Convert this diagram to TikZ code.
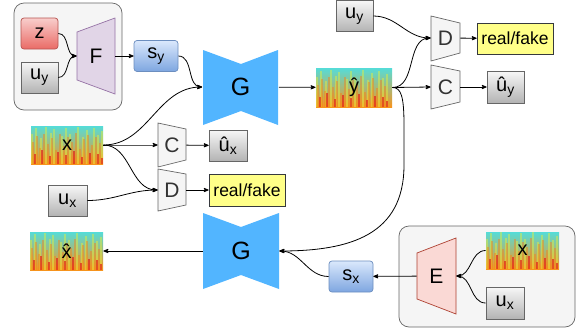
\documentclass[tikz,border=0pt]{standalone}
\usepackage{fontspec}
\setmainfont{Liberation Sans}
\usetikzlibrary{arrows}

\definecolor{grpFill}{HTML}{F5F5F5}
\definecolor{grpDraw}{HTML}{666666}
\definecolor{uTop}{HTML}{F7F7F7}
\definecolor{uBot}{HTML}{B3B3B3}
\definecolor{uDraw}{HTML}{666666}
\definecolor{sTop}{HTML}{DAE8FC}
\definecolor{sBot}{HTML}{7EA6E0}
\definecolor{sDraw}{HTML}{6C8EBF}
\definecolor{zTop}{HTML}{F8CECC}
\definecolor{zBot}{HTML}{EA6B66}
\definecolor{zDraw}{HTML}{B85450}
\definecolor{fFill}{HTML}{E1D5E7}
\definecolor{fDraw}{HTML}{9673A6}
\definecolor{eFill}{HTML}{FAD9D5}
\definecolor{eDraw}{HTML}{AE4132}
\definecolor{rfFill}{HTML}{FFFF88}
\definecolor{rfDraw}{HTML}{36393D}
\definecolor{gFill}{HTML}{52B5FF}
\definecolor{netText}{HTML}{333333}
\definecolor{specTop}{HTML}{55DCD8}
\definecolor{specMid}{HTML}{C8EE4E}
\definecolor{specBot}{HTML}{F7941D}
\definecolor{specYel}{HTML}{E8F03A}
\definecolor{specStripe}{HTML}{F08A1C}
\definecolor{specRed}{HTML}{E2231A}

\begin{document}
\begin{tikzpicture}[>=stealth',x=1pt,y=-1pt,line width=0.8pt]
  \tikzstyle{grp}=[draw=grpDraw,fill=grpFill,rounded corners=10pt,line width=0.7pt]
  \tikzstyle{box}=[inner sep=0pt,minimum width=37pt,minimum height=31pt,line width=0.7pt,font=\fontsize{20}{20}\selectfont]
  \tikzstyle{uvar}=[box,draw=uDraw,top color=uTop,bottom color=uBot]
  \tikzstyle{svar}=[box,draw=sDraw,top color=sTop,bottom color=sBot,rounded corners=3pt,minimum width=44pt]
  \tikzstyle{zvar}=[box,draw=zDraw,top color=zTop,bottom color=zBot,rounded corners=3pt]
  \tikzstyle{rf}=[box,draw=rfDraw,fill=rfFill,minimum width=76pt,font=\fontsize{17.5}{17.5}\selectfont]
  \tikzstyle{net}=[inner sep=0pt,font=\fontsize{21}{21}\selectfont]
  \tikzstyle{gen}=[inner sep=0pt,minimum width=76pt,minimum height=76pt,font=\fontsize{25}{25}\selectfont]
  \tikzstyle{link}=[->]
  \tikzstyle{spec}=[inner sep=0pt,minimum width=73pt,minimum height=38pt,fill=specMid,
    font=\fontsize{20}{20}\selectfont,
    path picture={
      \shade[top color=specTop,middle color=specMid,bottom color=specBot]
        (path picture bounding box.north west) rectangle (path picture bounding box.south east);
      \foreach \p/\h in {1/30,5/36,10/26,15/37,20/31,23/35,31/28,35/36,39/30,47/37,52/27,56/34,63/36,67/29,71/33}
        \draw[specYel,line width=1.6pt,opacity=.45] ([xshift=\p pt]path picture bounding box.south west) -- ++(0pt,\h pt);
      \foreach \p/\h in {2/22,6/28,9/16,13/30,17/20,21/26,25/14,29/30,33/18,37/27,41/22,45/31,49/15,53/25,57/29,61/19,65/27,69/21}
        \draw[specStripe,line width=1.3pt,opacity=.5] ([xshift=\p pt]path picture bounding box.south west) -- ++(0pt,\h pt);
      \foreach \p/\h in {4/10,11/14,19/8,27/12,35/9,43/13,51/7,59/11,67/10,71/6}
        \draw[specRed,line width=1.2pt,opacity=.7] ([xshift=\p pt]path picture bounding box.south west) -- ++(0pt,\h pt);
    }]

  \useasboundingbox (0,0) rectangle (582,333);

  % groups
  \draw[grp] (14,3) rectangle (122,110);
  \draw[grp] (399,226) rectangle (575,327);

  % network blocks
  \filldraw[fill=fFill,draw=fDraw,line width=0.7pt] (77,32) -- (115,18) -- (115,94) -- (77,80) -- cycle;
  \filldraw[fill=eFill,draw=eDraw,line width=0.7pt] (417,253) -- (456,238) -- (456,314) -- (417,299) -- cycle;
  \filldraw[fill=grpFill,draw=grpDraw,line width=0.7pt] (158,123) -- (186,129) -- (186,160) -- (158,167) -- cycle;
  \filldraw[fill=grpFill,draw=grpDraw,line width=0.7pt] (158,169) -- (186,174) -- (186,205) -- (158,211) -- cycle;
  \filldraw[fill=grpFill,draw=grpDraw,line width=0.7pt] (431,16) -- (460,23) -- (460,53) -- (431,61) -- cycle;
  \filldraw[fill=grpFill,draw=grpDraw,line width=0.7pt] (431,65) -- (460,71) -- (460,102) -- (431,109) -- cycle;
  \fill[gFill] (203,50) -- (241,64) -- (278,50) -- (278,125) -- (241,111) -- (203,125) -- cycle;
  \fill[gFill] (203,213) -- (241,227) -- (279,213) -- (279,289) -- (241,275) -- (203,289) -- cycle;

  \node[net,minimum width=38pt,minimum height=76pt]              (F)   at (96,56)     {F};
  \node[net,minimum width=39pt,minimum height=76pt]              (E)   at (436.5,276) {E};
  \node[net,minimum width=28pt,minimum height=44pt,text=netText] (Cl)  at (172,145)   {C};
  \node[net,minimum width=28pt,minimum height=42pt,text=netText] (Dl)  at (172,190)   {D};
  \node[net,minimum width=29pt,minimum height=45pt,text=netText] (Dr)  at (445.5,38)  {D};
  \node[net,minimum width=29pt,minimum height=44pt,text=netText] (Cr)  at (445.5,87)  {C};
  \node[gen]                                                     (G1)  at (240.5,87)  {G};
  \node[gen]                                                     (G2)  at (241,251)   {G};

  % variables
  \node[zvar]                   (z)    at (39.5,33.5)  {z};
  \node[uvar]                   (uy)   at (39.5,77.5)  {u\textsubscript{y}};
  \node[svar]                   (sy)   at (156,56)     {s\textsubscript{y}};
  \node[uvar]                   (uyt)  at (354.5,16)   {u\textsubscript{y}};
  \node[rf]                     (rfr)  at (515,38.5)   {real/fake};
  \node[uvar,minimum height=32pt] (uyh) at (505.5,87)  {û\textsubscript{y}};
  \node[spec,minimum width=76pt,minimum height=39pt] (yhat) at (354,87.5) {ŷ};
  \node[spec,minimum width=72pt] (xl)  at (67,145)     {x};
  \node[uvar,minimum width=38pt] (uxh) at (228,145.5)  {û\textsubscript{x}};
  \node[rf,minimum height=32pt] (rfl)  at (247,190)    {real/fake};
  \node[uvar,minimum width=39pt] (ux)  at (67.5,200.5) {u\textsubscript{x}};
  \node[spec]                   (xhat) at (66.5,251)   {\^{x}};
  \node[svar]                   (sx)   at (351,276.5)  {s\textsubscript{x}};
  \node[spec,minimum height=37pt] (xr) at (522.5,250.5) {x};
  \node[uvar,minimum width=38pt,minimum height=32pt] (uxr) at (505,303) {u\textsubscript{x}};

  % connectors
  \path[link] (z.east)    edge[out=0,in=180]   (F.west)
              (uy.east)   edge[out=0,in=180]   (F.west)
              (F)         edge                 (sy)
              (sy.east)   edge[out=0,in=180]   (G1.west)
              (xl.east)   edge[out=0,in=180]   (G1.west)
                          edge[out=0,in=180]   (Cl.west)
                          edge[out=0,in=180]   (Dl.west)
              (ux.east)   edge[out=0,in=180]   (Dl.west)
              (Cl)        edge                 (uxh)
              (Dl)        edge                 (rfl)
              (G1)        edge                 (yhat)
              (uyt.east)  edge[out=0,in=180]   (Dr.west)
              (yhat.east) edge[out=0,in=180]   (Dr.west)
                          edge                 (Cr.west)
              (Cr)        edge                 (uyh)
              (Dr)        edge                 (rfr)
              (G2)        edge                 (xhat)
              (sx.west)   edge[out=180,in=0]   (G2.east)
              (E)         edge                 (sx)
              (xr.west)   edge[out=180,in=0]   (E.east)
              (uxr.west)  edge[out=180,in=0]   (E.east);
  \draw[link] (yhat.east) .. controls (401,87.5) and (404,96) .. (404,125) -- (404,165)
              .. controls (404,235) and (350,251) .. (G2.east);
\end{tikzpicture}
\end{document}
